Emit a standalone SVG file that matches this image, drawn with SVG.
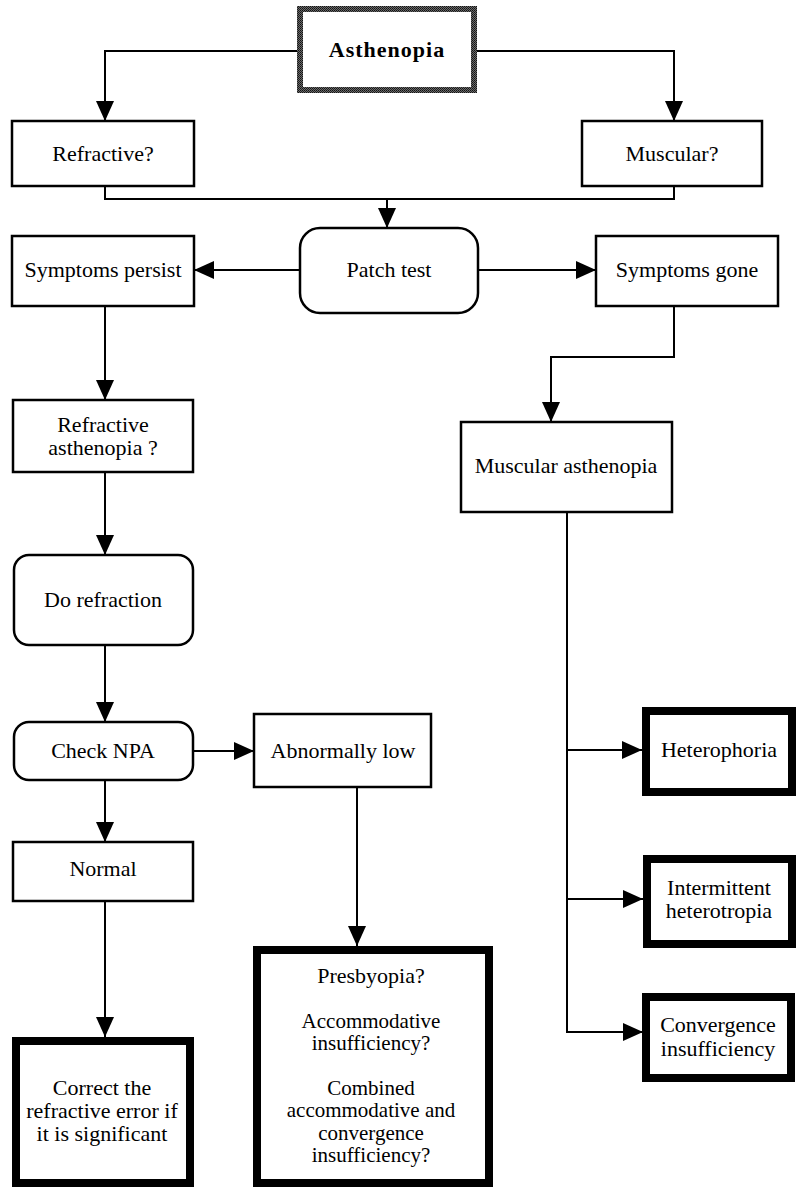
<svg xmlns="http://www.w3.org/2000/svg" width="796" height="1187" viewBox="0 0 796 1187">
<defs>
<pattern id="dots" width="2" height="2" patternUnits="userSpaceOnUse">
<rect width="2" height="2" fill="#6a6a6a"/>
<rect width="1" height="1" fill="#111"/>
<rect x="1" y="1" width="1" height="1" fill="#222"/>
</pattern>
<marker id="ah" markerUnits="userSpaceOnUse" markerWidth="20" markerHeight="18" refX="20" refY="9" orient="auto">
<path d="M0,0 L20,9 L0,18 z" fill="#000"/>
</marker>
<style>
.box{fill:#fff;stroke:#000;stroke-width:2.5}
.thick{fill:#fff;stroke:#000;stroke-width:8}
.t{font-family:"Liberation Serif","Times New Roman",serif;font-size:22px;text-anchor:middle;fill:#000}
.s{font-size:21px}
.b{font-weight:bold;letter-spacing:1px}
.c{fill:none;stroke:#000;stroke-width:2}
.a{marker-end:url(#ah)}
</style>
</defs>
<rect width="796" height="1187" fill="#fff"/>
<g id="connectors">
<path class="c a" d="M297,51 H105 V121"/>
<path class="c a" d="M477,51 H674 V121"/>
<path class="c" d="M105,186 V199 H674 V186"/>
<path class="c a" d="M387,199 V228"/>
<path class="c a" d="M300,270 H194"/>
<path class="c a" d="M478,270 H596"/>
<path class="c a" d="M105,306 V400"/>
<path class="c a" d="M674,306 V357 H551 V422"/>
<path class="c a" d="M105,472 V555"/>
<path class="c a" d="M105,645 V722"/>
<path class="c a" d="M193,751 H254"/>
<path class="c a" d="M105,780 V842"/>
<path class="c a" d="M357,787 V946"/>
<path class="c a" d="M105,901 V1037"/>
<path class="c a" d="M567,512 V1032 H643"/>
<path class="c a" d="M567,750 H642"/>
<path class="c a" d="M567,899 H643"/>
</g>
<g id="asthenopia">
<rect x="300" y="9" width="174" height="81" fill="#fff" stroke="url(#dots)" stroke-width="6"/>
<text class="t b" x="387" y="57">Asthenopia</text>
</g>
<g id="refractive-q">
<rect class="box" x="12" y="121" width="182" height="65"/>
<text class="t" x="103" y="161">Refractive?</text>
</g>
<g id="muscular-q">
<rect class="box" x="582" y="121" width="180" height="65"/>
<text class="t" x="672" y="161">Muscular?</text>
</g>
<g id="patch-test">
<rect class="box" x="300" y="228" width="178" height="85" rx="20"/>
<text class="t" x="389" y="277">Patch test</text>
</g>
<g id="symptoms-persist">
<rect class="box" x="12" y="236" width="182" height="70"/>
<text class="t" x="103" y="277">Symptoms persist</text>
</g>
<g id="symptoms-gone">
<rect class="box" x="596" y="236" width="182" height="70"/>
<text class="t" x="687" y="277">Symptoms gone</text>
</g>
<g id="refractive-asthenopia">
<rect class="box" x="13" y="400" width="180" height="72"/>
<text class="t" x="103" y="432">Refractive</text>
<text class="t" x="103" y="455">asthenopia ?</text>
</g>
<g id="muscular-asthenopia">
<rect class="box" x="461" y="422" width="211" height="90"/>
<text class="t" x="566" y="473">Muscular asthenopia</text>
</g>
<g id="do-refraction">
<rect class="box" x="14" y="555" width="179" height="90" rx="15"/>
<text class="t" x="103" y="607">Do refraction</text>
</g>
<g id="check-npa">
<rect class="box" x="14" y="722" width="179" height="58" rx="15"/>
<text class="t" x="103" y="758">Check NPA</text>
</g>
<g id="abnormally-low">
<rect class="box" x="254" y="714" width="177" height="73"/>
<text class="t" x="343" y="758">Abnormally low</text>
</g>
<g id="normal">
<rect class="box" x="13" y="842" width="180" height="59"/>
<text class="t" x="103" y="876">Normal</text>
</g>
<g id="correct">
<rect class="thick" x="16" y="1041" width="174" height="142"/>
<text class="t" x="102" y="1095">Correct the</text>
<text class="t" x="102" y="1118">refractive error if</text>
<text class="t" x="102" y="1141">it is significant</text>
</g>
<g id="presbyopia">
<rect class="thick" x="257" y="950" width="232" height="233"/>
<text class="t" x="371" y="983">Presbyopia?</text>
<text class="t s" x="371" y="1028">Accommodative</text>
<text class="t s" x="371" y="1050">insufficiency?</text>
<text class="t s" x="371" y="1095">Combined</text>
<text class="t s" x="371" y="1117">accommodative and</text>
<text class="t s" x="371" y="1140">convergence</text>
<text class="t s" x="371" y="1162">insufficiency?</text>
</g>
<g id="heterophoria">
<rect class="thick" x="646" y="711" width="146" height="81"/>
<text class="t" x="719" y="757">Heterophoria</text>
</g>
<g id="intermittent">
<rect class="thick" x="647" y="859" width="145" height="85"/>
<text class="t" x="719" y="895">Intermittent</text>
<text class="t" x="719" y="918">heterotropia</text>
</g>
<g id="convergence">
<rect class="thick" x="646" y="997" width="145" height="81"/>
<text class="t" x="718" y="1032">Convergence</text>
<text class="t" x="718" y="1056">insufficiency</text>
</g>
</svg>
